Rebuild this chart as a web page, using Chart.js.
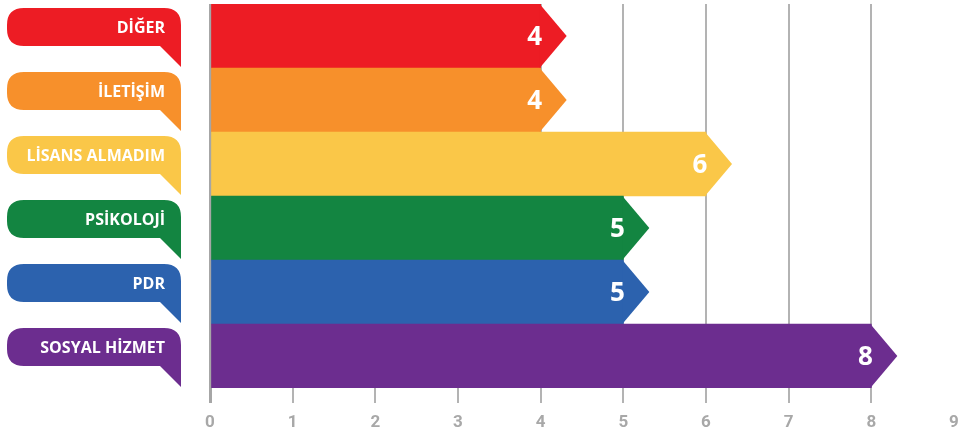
<!DOCTYPE html>
<html>
<head>
<meta charset="utf-8">
<script src="https://cdn.jsdelivr.net/npm/chart.js@4"></script>
<style>
  html, body { margin: 0; padding: 0; background: #fff; }
</style>
</head>
<body>
<canvas id="chartCanvas" width="958" height="434"></canvas>
<script>
const categories = ['DİĞER', 'İLETİŞİM', 'LİSANS ALMADIM', 'PSİKOLOJİ', 'PDR', 'SOSYAL HİZMET'];
const values = [4, 4, 6, 5, 5, 8];
const barColors = ['#ed1c24', '#f7902b', '#fac748', '#138541', '#2c62ae', '#6c2d8f'];
const xTicks = [0, 1, 2, 3, 4, 5, 6, 7, 8, 9];

// arrow tips, value labels and the tab-shaped category labels
const decorPlugin = {
    id: 'decor',
    afterDatasetsDraw: function(chart) {
        const ctx = chart.ctx;
        const meta = chart.getDatasetMeta(0);
        const yScale = chart.scales.y;
        ctx.save();
        meta.data.forEach(function(bar, i) {
            const half = bar.height / 2;
            // arrow point
            ctx.fillStyle = barColors[i];
            ctx.beginPath();
            ctx.moveTo(bar.x - 1, bar.y - half);
            ctx.lineTo(bar.x + 26, bar.y);
            ctx.lineTo(bar.x - 1, bar.y + half);
            ctx.closePath();
            ctx.fill();
            // value
            ctx.fillStyle = '#fff';
            ctx.font = 'bold 26px "Open Sans"';
            ctx.textAlign = 'center';
            ctx.textBaseline = 'middle';
            ctx.fillText(String(values[i]), bar.x - 6, bar.y + 2);

            // label tab
            const top = yScale.getPixelForValue(i) - half;
            const t = top + 4, b = top + 42, tail = top + 63;
            const l = 7, r = 181, rad = 17;
            ctx.fillStyle = barColors[i];
            ctx.beginPath();
            ctx.moveTo(l + rad, t);
            ctx.lineTo(r - rad, t);
            ctx.quadraticCurveTo(r, t, r, t + rad);
            ctx.lineTo(r, tail);
            ctx.lineTo(r - 21, b);
            ctx.lineTo(l + rad, b);
            ctx.quadraticCurveTo(l, b, l, b - rad);
            ctx.lineTo(l, t + rad);
            ctx.quadraticCurveTo(l, t, l + rad, t);
            ctx.closePath();
            ctx.fill();
            ctx.fillStyle = '#fff';
            ctx.font = 'bold 16px "Open Sans"';
            ctx.textAlign = 'right';
            ctx.fillText(categories[i], 165, (t + b) / 2 + 1);
        });
        ctx.restore();
    }
};

new Chart(document.getElementById('chartCanvas').getContext('2d'), {
    type: 'bar',
    data: {
        labels: categories,
        datasets: [{
            data: values,
            backgroundColor: barColors,
            borderWidth: 0,
            barPercentage: 1,
            categoryPercentage: 1
        }]
    },
    options: {
        indexAxis: 'y',
        responsive: false,
        animation: false,
        layout: { padding: { left: 210, right: 4, top: 4, bottom: 0 } },
        plugins: { legend: { display: false }, tooltip: { enabled: false } },
        scales: {
            x: {
                min: 0,
                max: 9,
                afterBuildTicks: function(axis) {
                    axis.ticks = xTicks.map(function(v) { return { value: v }; });
                },
                afterFit: function(axis) {
                    axis.paddingLeft = 0;
                    axis.paddingRight = 0;
                    axis.height = 46;
                },
                grid: {
                    color: function(c) {
                        if (!c.tick) return '#b3b3b3';
                        if (c.tick.value === 9) return 'rgba(0,0,0,0)';
                        return c.tick.value === 0 ? '#a6a6a6' : '#b3b3b3';
                    },
                    lineWidth: function(c) { return c.tick && c.tick.value === 0 ? 3 : 2; },
                    tickLength: 15,
                    drawTicks: true
                },
                border: { display: false },
                ticks: {
                    color: '#a8a8a8',
                    padding: 10,
                    font: { family: '"Liberation Sans Narrow", Roboto', size: 17, weight: 'bold' },
                    maxRotation: 0
                }
            },
            y: {
                display: false
            }
        }
    },
    plugins: [decorPlugin]
});
</script>
</body>
</html>
